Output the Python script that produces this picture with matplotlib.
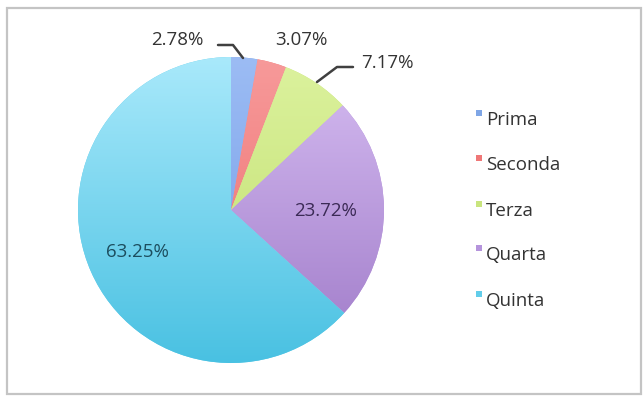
import numpy as np
import matplotlib
matplotlib.use("Agg")
import matplotlib.pyplot as plt
from matplotlib.colors import LinearSegmentedColormap, to_rgb
from matplotlib.patches import Rectangle

# Share of each class
categories = ["Prima", "Seconda", "Terza", "Quarta", "Quinta"]
shares = [2.78, 3.07, 7.17, 23.72, 63.25]
labels = ["2.78%", "3.07%", "7.17%", "23.72%", "63.25%"]

# (top colour, bottom colour) for each wedge's vertical gradient
top_colors = ["#9cbcf4", "#f79a9a", "#dcf29e", "#d6bdf2", "#a9e9fb"]
bottom_colors = ["#6f9ae6", "#ec6a6a", "#bedd6a", "#9f7ac8", "#49c1e2"]
legend_colors = ["#7fa6e6", "#ef7777", "#c9e57e", "#b594dc", "#62cdea"]

W, H = 643, 397
fig = plt.figure(figsize=(W / 100, H / 100), dpi=100)
ax = fig.add_axes([0, 0, 1, 1])

cx, cy, r = 231, H - 210, 153
wedges, _ = ax.pie(shares, startangle=90, counterclock=False,
                   center=(cx, cy), radius=r,
                   colors=legend_colors, frame=True,
                   wedgeprops=dict(linewidth=0))
ax.set_xlim(0, W)
ax.set_ylim(0, H)
ax.set_aspect("auto")
ax.axis("off")

# vertical gradient fill clipped to each wedge
grad = np.linspace(0, 1, 256).reshape(-1, 1)
for w, c0, c1 in zip(wedges, top_colors, bottom_colors):
    cmap = LinearSegmentedColormap.from_list("g", [to_rgb(c0), to_rgb(c1)])
    im = ax.imshow(grad, cmap=cmap, aspect="auto",
                   extent=(cx - r, cx + r, cy - r, cy + r), origin="upper",
                   zorder=w.get_zorder() + 0.1, interpolation="bilinear")
    im.set_clip_path(w)

font = "Open Sans"
fs = 13.5
txt_col = "#333333"

# labels outside the small wedges, with leader lines
ax.text(177, H - 40, labels[0], ha="center", va="center", fontsize=fs,
        family=font, color=txt_col)
ax.plot([218, 233, 243], [H - 45, H - 45, H - 58], color="#404040", lw=1.8,
        solid_capstyle="round", zorder=5)
ax.text(301, H - 40, labels[1], ha="center", va="center", fontsize=fs,
        family=font, color=txt_col)
ax.text(387, H - 63, labels[2], ha="center", va="center", fontsize=fs,
        family=font, color=txt_col)
ax.plot([353, 337, 317], [H - 67, H - 67, H - 82], color="#404040", lw=1.8,
        solid_capstyle="round", zorder=5)

# labels inside the large wedges
ax.text(326, H - 211, labels[3], ha="center", va="center", fontsize=fs,
        family=font, color="#3b2a55", zorder=6)
ax.text(137, H - 252, labels[4], ha="center", va="center", fontsize=fs,
        family=font, color="#1c4d5e", zorder=6)

# legend
legend_y = [120, 165, 211, 255, 301]
for name, col, y in zip(categories, legend_colors, legend_y):
    ax.add_patch(Rectangle((476, H - y + 4), 6, 6, facecolor=col,
                           edgecolor="none", zorder=6))
    ax.text(486, H - y, name, ha="left", va="center", fontsize=fs,
            family=font, color=txt_col, zorder=6)

# outer frame
ax.add_patch(Rectangle((7, H - 394), 634, 386, facecolor="none",
                       edgecolor="#c4c4c4", lw=1.6, zorder=7))

fig.savefig("out.png", dpi=100, facecolor="white")
